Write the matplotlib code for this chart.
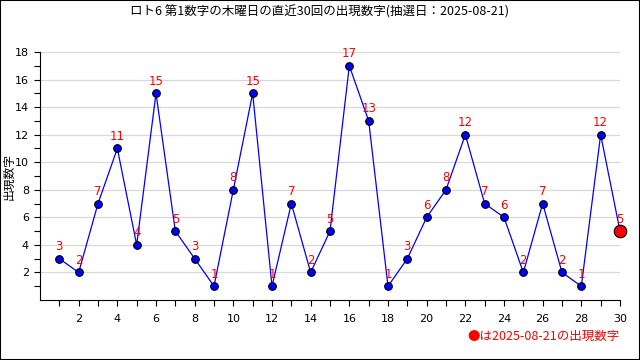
import numpy as np
import matplotlib
matplotlib.use("Agg")
import matplotlib.pyplot as plt

plt.rcParams['font.family'] = ['Noto Sans CJK JP', 'DejaVu Sans']

# data
rounds = list(range(1, 31))
numbers = [3, 2, 7, 11, 4, 15, 5, 3, 1, 8, 15, 1, 7, 2, 5, 17, 13, 1, 3, 6,
           8, 12, 7, 6, 2, 7, 2, 1, 12, 5]
title = "ロト6 第1数字の木曜日の直近30回の出現数字(抽選日：2025-08-21)"
draw_date = "2025-08-21"

fig = plt.figure(figsize=(6.4, 3.6), dpi=100)
ax = fig.add_axes([40 / 640, 60 / 360, 580 / 640, 248 / 360])

ax.plot(rounds, numbers, color='blue', lw=0.9, zorder=3)
ax.plot(rounds[:-1], numbers[:-1], 'o', ms=5.5, mfc='blue', mec='black',
        mew=0.8, zorder=4, clip_on=False)
ax.plot(rounds[-1], numbers[-1], 'o', ms=9, mfc='red', mec='black',
        mew=0.8, zorder=5, clip_on=False)

for x, y in zip(rounds, numbers):
    ax.annotate(str(y), (x, y), xytext=(0, 4), textcoords='offset points',
                ha='center', va='bottom', color='red', fontsize=8.5,
                family='DejaVu Sans', zorder=6)

ax.set_xlim(0, 30)
ax.set_ylim(0, 18)
ax.set_xticks(range(2, 31, 2))
ax.set_xticks(range(1, 31), minor=True)
ax.set_yticks(range(2, 19, 2))
ax.set_yticks(range(1, 19), minor=True)
ax.tick_params(which='both', direction='out', length=4, width=0.8,
               labelsize=8)
ax.tick_params(axis='x', pad=6)
ax.tick_params(axis='y', pad=4)
for lab in ax.get_xticklabels() + ax.get_yticklabels():
    lab.set_family('DejaVu Sans')
ax.grid(axis='y', which='major', color='#d8d8d8', lw=0.9)
ax.set_axisbelow(True)
for s in ['top', 'right']:
    ax.spines[s].set_visible(False)

fig.text(9 / 640, 1 - 176 / 360, "出現数字", rotation=90, ha='center',
         va='center', fontsize=8.5)
fig.text(0.5, 1 - 12 / 360, title, ha='center', va='center', fontsize=9)
fig.text(620 / 640, 1 - 336 / 360, "●は" + draw_date + "の出現数字",
         ha='right', va='center', color='red', fontsize=9)

fig.patches.append(plt.Rectangle((0, 0), 1, 1, transform=fig.transFigure,
                                 fill=False, ec='black', lw=1.5))

fig.savefig("out.png", dpi=100)
